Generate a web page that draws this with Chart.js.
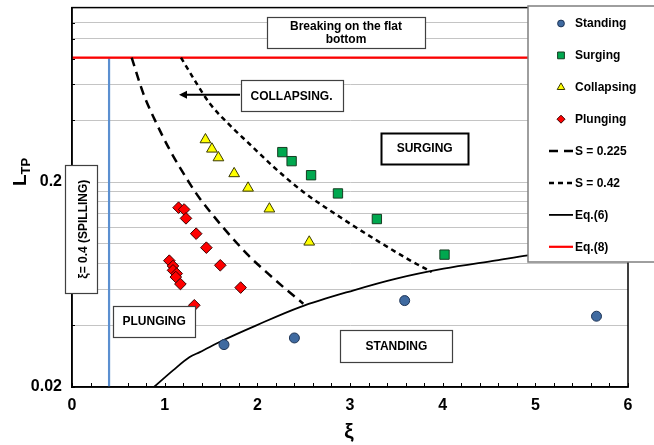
<!DOCTYPE html>
<html><head><meta charset="utf-8">
<script src="https://cdn.jsdelivr.net/npm/chart.js@4/dist/chart.umd.min.js"></script>
<style>html,body{margin:0;padding:0;background:#fff}#wrap{width:654px;height:445px;position:relative}</style>
</head><body><div id="wrap"><canvas id="c" width="654" height="445"></canvas></div>
<script>
// ---- data ----
const xTickLabels = ['0','1','2','3','4','5','6'];
const yTickLabels = ['0.02','0.2'];
const yGridValues = [0.02,0.04,0.06,0.08,0.1,0.12,0.14,0.16,0.18,0.2,0.4,0.6,0.8,1.0,1.2];

const standingX = [1.64, 2.40, 3.59, 5.66];
const standingY = [0.0322, 0.0347, 0.0528, 0.0443];

const surgingX = [2.27, 2.37, 2.58, 2.87, 3.29, 4.02];
const surgingY = [0.280, 0.253, 0.216, 0.176, 0.132, 0.0885];

const collapsingX = [1.44, 1.51, 1.58, 1.75, 1.90, 2.13, 2.56];
const collapsingY = [0.322, 0.290, 0.263, 0.220, 0.187, 0.148, 0.102];

const plungingX = [1.15, 1.21, 1.23, 1.34, 1.45, 1.60, 1.05, 1.09, 1.09, 1.13, 1.12, 1.17, 1.82, 1.32];
const plungingY = [0.150, 0.147, 0.133, 0.112, 0.0957, 0.0785, 0.0827, 0.0779, 0.0742, 0.0715, 0.0688, 0.0636, 0.0611, 0.0501];

const s225X = [0.644, 0.770, 0.896, 1.058, 1.273, 1.381, 1.885, 2.101, 2.280, 2.496];
const s225Y = [0.81, 0.540, 0.400, 0.2855, 0.196, 0.166, 0.0895, 0.0725, 0.0615, 0.0510];

const s42X = [1.176, 1.346, 1.489, 1.705, 1.921, 2.172, 2.496, 2.892, 3.288, 3.647, 3.882];
const s42Y = [0.81, 0.604, 0.482, 0.378, 0.305, 0.238, 0.179, 0.135, 0.1039, 0.083, 0.0728];

const eq6X = [0.885, 1.09, 1.27, 1.38, 1.63, 1.99, 2.46, 3.04, 3.50, 4.01, 4.58, 4.92, 5.30];
const eq6Y = [0.020, 0.0241, 0.0280, 0.0296, 0.0338, 0.0400, 0.0491, 0.0593, 0.0676, 0.0756, 0.0830, 0.0878, 0.0920];

const eq8X = [0, 6];
const eq8Y = [0.81, 0.81];

const spillX = [0.4, 0.4];
const spillY = [0.02, 0.81];

const zip = (xs, ys) => xs.map((x, i) => ({x: x, y: ys[i]}));

// ---- annotations (data-space anchors) ----
const annotationBoxes = [
  {lines: ['Breaking on the flat', 'bottom'], x: 2.957, y: 1.072, w: 158, h: 31, lw: 1.2},
  {lines: ['COLLAPSING.'], x: 2.369, y: 0.527, w: 102, h: 31, lw: 1.2},
  {lines: ['SURGING'], x: 3.806, y: 0.291, w: 87, h: 31, lw: 2},
  {lines: ['STANDING'], x: 3.50, y: 0.0316, w: 112, h: 32, lw: 1.2},
  {lines: ['PLUNGING'], x: 0.887, y: 0.0418, w: 82, h: 31, lw: 1.2},
  {lines: ['ξ= 0.4 (SPILLING)'], x: 0.092, y: 0.1178, w: 32, h: 128, lw: 1.2, rotate: true}
];
const arrow = {x1: 1.813, x2: 1.155, y: 0.534};

const FONT = '"Liberation Sans", Arial, sans-serif';

function drawMarker(ctx, style, x, y, r) {
  ctx.beginPath();
  if (style === 'circle') {
    ctx.arc(x, y, r, 0, Math.PI * 2);
  } else if (style === 'rect') {
    const s = r * Math.SQRT1_2;
    ctx.rect(x - s, y - s, 2 * s, 2 * s);
  } else if (style === 'triangle') {
    for (let k = 0; k < 3; k++) {
      const a = -Math.PI / 2 + k * 2 * Math.PI / 3;
      const px = x + Math.cos(a) * r, py = y + Math.sin(a) * r;
      k === 0 ? ctx.moveTo(px, py) : ctx.lineTo(px, py);
    }
    ctx.closePath();
  } else if (style === 'rectRot') {
    ctx.moveTo(x, y - r); ctx.lineTo(x + r, y); ctx.lineTo(x, y + r); ctx.lineTo(x - r, y); ctx.closePath();
  }
  ctx.fill(); ctx.stroke();
}

const overlay = {
  id: 'overlay',
  beforeDatasetsDraw(chart) {
    const {ctx, chartArea: a, scales} = chart;
    ctx.save();
    ctx.strokeStyle = '#000'; ctx.lineWidth = 1;
    for (let i = 0; i <= 30; i++) {
      const px = Math.round(scales.x.getPixelForValue(i / 5)) + 0.5;
      ctx.beginPath(); ctx.moveTo(px, a.bottom); ctx.lineTo(px, a.bottom - 4); ctx.stroke();
    }
    yGridValues.forEach(v => {
      const py = Math.round(scales.y.getPixelForValue(v)) + 0.5;
      ctx.beginPath(); ctx.moveTo(a.left, py); ctx.lineTo(a.left + 3, py); ctx.stroke();
    });
    ctx.restore();
  },
  afterDraw(chart) {
    const {ctx, chartArea: a, scales} = chart;
    const sx = scales.x, sy = scales.y;
    ctx.save();
    ctx.strokeStyle = '#000'; ctx.lineWidth = 1.5;
    ctx.strokeRect(a.left, a.top, a.right - a.left, a.bottom - a.top);

    const ay = sy.getPixelForValue(arrow.y);
    const ax1 = sx.getPixelForValue(arrow.x1), ax2 = sx.getPixelForValue(arrow.x2);
    ctx.strokeStyle = '#000'; ctx.lineWidth = 2;
    ctx.beginPath(); ctx.moveTo(ax1, ay); ctx.lineTo(ax2 + 4, ay); ctx.stroke();
    ctx.fillStyle = '#000';
    ctx.beginPath(); ctx.moveTo(ax2, ay); ctx.lineTo(ax2 + 8, ay - 4); ctx.lineTo(ax2 + 8, ay + 4); ctx.closePath(); ctx.fill();

    annotationBoxes.forEach(b => {
      const cx = sx.getPixelForValue(b.x), cy = sy.getPixelForValue(b.y);
      const x0 = Math.round(cx - b.w / 2) + 0.5, y0 = Math.round(cy - b.h / 2) + 0.5;
      ctx.fillStyle = '#fff';
      ctx.fillRect(x0, y0, b.w, b.h);
      ctx.strokeStyle = b.lw > 1.5 ? '#000' : '#404040'; ctx.lineWidth = b.lw;
      ctx.strokeRect(x0, y0, b.w, b.h);
      ctx.fillStyle = '#000';
      ctx.font = 'bold 12px ' + FONT;
      ctx.textAlign = 'center'; ctx.textBaseline = 'middle';
      if (b.rotate) {
        ctx.save(); ctx.translate(cx + 3, cy); ctx.rotate(-Math.PI / 2);
        ctx.fillText(b.lines[0], 0, 0); ctx.restore();
      } else {
        const lh = 13, n = b.lines.length;
        b.lines.forEach((t, i) => ctx.fillText(t, cx, cy + (i - (n - 1) / 2) * lh + 0.5));
      }
    });

    const lx0 = 528, ly0 = 6, lx1 = 660, ly1 = 262;
    ctx.fillStyle = '#fff';
    ctx.fillRect(lx0, ly0, lx1 - lx0, ly1 - ly0);
    ctx.strokeStyle = '#7f7f7f'; ctx.lineWidth = 1.5;
    ctx.strokeRect(lx0, ly0, lx1 - lx0, ly1 - ly0);
    const items = chart.data.datasets.filter(d => !d.hideInLegend);
    items.forEach((d, i) => {
      const y = 23.5 + i * 31.9;
      if (d.showLine) {
        ctx.strokeStyle = d.borderColor; ctx.lineWidth = d.borderWidth;
        ctx.setLineDash(d.borderDash || []);
        ctx.beginPath(); ctx.moveTo(549, y); ctx.lineTo(573, y); ctx.stroke();
        ctx.setLineDash([]);
      } else {
        ctx.fillStyle = d.backgroundColor; ctx.strokeStyle = d.borderColor; ctx.lineWidth = 1;
        drawMarker(ctx, d.pointStyle, 561, y, d.legendRadius);
      }
      ctx.fillStyle = '#000'; ctx.font = 'bold 12px ' + FONT;
      ctx.textAlign = 'left'; ctx.textBaseline = 'middle';
      ctx.fillText(d.label, 575, y + 0.5);
    });

    ctx.fillStyle = '#000';
    ctx.save(); ctx.translate(26, 172); ctx.rotate(-Math.PI / 2);
    ctx.textBaseline = 'alphabetic'; ctx.textAlign = 'left';
    ctx.font = 'bold 19px ' + FONT;
    const wL = ctx.measureText('L').width;
    ctx.font = 'bold 13px ' + FONT;
    const wT = ctx.measureText('TP').width;
    const start = -(wL + wT) / 2;
    ctx.font = 'bold 19px ' + FONT; ctx.fillText('L', start, 0);
    ctx.font = 'bold 13px ' + FONT; ctx.fillText('TP', start + wL, 4);
    ctx.restore();
    ctx.font = 'bold 21px ' + FONT; ctx.textAlign = 'center'; ctx.textBaseline = 'middle';
    ctx.fillText('ξ', 349, 432);
    ctx.restore();
  }
};

const markerBase = {showLine: false, pointBorderWidth: 1};
const lineBase = {showLine: true, pointRadius: 0, pointHoverRadius: 0, fill: false, cubicInterpolationMode: 'monotone'};

const datasets = [
  Object.assign({label: 'Standing', data: zip(standingX, standingY), pointStyle: 'circle', pointRadius: 5,
    backgroundColor: '#3f6aa0', borderColor: '#1f3556', legendRadius: 3.4}, markerBase),
  Object.assign({label: 'Surging', data: zip(surgingX, surgingY), pointStyle: 'rect', pointRadius: 6.6,
    backgroundColor: '#00a84f', borderColor: '#163d22', legendRadius: 4.8}, markerBase),
  Object.assign({label: 'Collapsing', data: zip(collapsingX, collapsingY), pointStyle: 'triangle', pointRadius: 6.2,
    backgroundColor: '#ffff00', borderColor: '#3a3a00', legendRadius: 4.4}, markerBase),
  Object.assign({label: 'Plunging', data: zip(plungingX, plungingY), pointStyle: 'rectRot', pointRadius: 5.8,
    backgroundColor: '#ff0000', borderColor: '#3a0000', legendRadius: 4}, markerBase),
  Object.assign({label: 'S = 0.225', data: zip(s225X, s225Y), borderColor: '#000', borderWidth: 2.5,
    borderDash: [9, 6]}, lineBase),
  Object.assign({label: 'S = 0.42', data: zip(s42X, s42Y), borderColor: '#000', borderWidth: 2.5,
    borderDash: [5, 4]}, lineBase),
  Object.assign({label: 'Eq.(6)', data: zip(eq6X, eq6Y), borderColor: '#000', borderWidth: 1.8}, lineBase),
  Object.assign({label: 'Eq.(8)', data: zip(eq8X, eq8Y), borderColor: '#ff0000', borderWidth: 2.2}, lineBase),
  Object.assign({label: 'spill', hideInLegend: true, data: zip(spillX, spillY), borderColor: '#5b8fd0', borderWidth: 2.2}, lineBase)
];

new Chart(document.getElementById('c'), {
  type: 'scatter',
  data: {datasets: datasets},
  options: {
    responsive: false, animation: false, devicePixelRatio: 1,
    layout: {padding: {left: 0, right: 26, top: 7, bottom: 0}},
    plugins: {legend: {display: false}, tooltip: {enabled: false}},
    elements: {line: {borderJoinStyle: 'round'}},
    scales: {
      x: {
        type: 'linear', min: 0, max: 6,
        afterBuildTicks: s => { s.ticks = xTickLabels.map(t => ({value: parseFloat(t)})); },
        ticks: {autoSkip: false, maxRotation: 0, padding: 9, color: '#000',
          font: {family: FONT, size: 16, weight: 'bold'},
          callback: v => { const m = xTickLabels.find(t => Math.abs(parseFloat(t) - v) < 1e-9); return m || ''; }},
        grid: {display: false, drawTicks: false},
        border: {display: true, color: '#000', width: 1.5},
        afterFit: s => { s.height = 58; s.paddingLeft = 0; s.paddingRight = 0; }
      },
      y: {
        type: 'logarithmic', min: 0.02, max: 1.42,
        afterBuildTicks: s => { s.ticks = yGridValues.map(v => ({value: v})); },
        ticks: {autoSkip: false, padding: 10, color: '#000',
          font: {family: FONT, size: 16, weight: 'bold'},
          callback: v => { const m = yTickLabels.find(t => Math.abs(parseFloat(t) - v) < 1e-9); return m || ''; }},
        grid: {color: '#c4c4c4', lineWidth: 1, drawTicks: false},
        border: {display: true, color: '#000', width: 1.5},
        afterFit: s => { s.width = 72; s.paddingTop = 0; s.paddingBottom = 0; }
      }
    }
  },
  plugins: [overlay]
});
</script></body></html>
